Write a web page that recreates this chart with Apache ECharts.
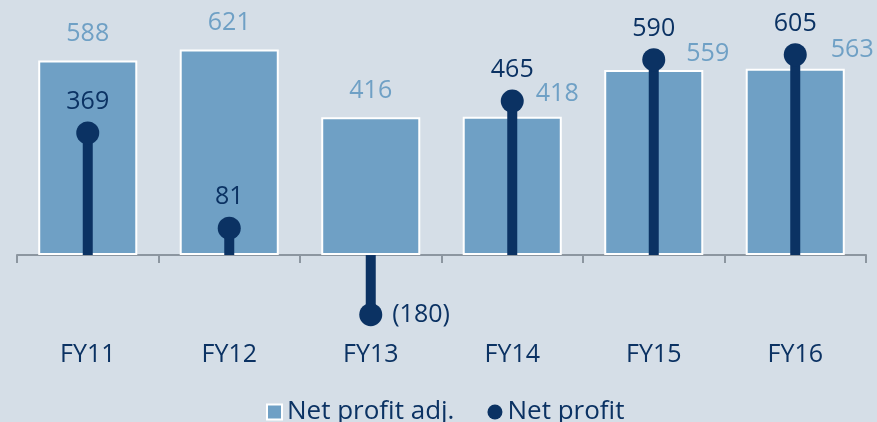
<!DOCTYPE html>
<html>
<head>
<meta charset="utf-8">
<script src="https://cdn.jsdelivr.net/npm/echarts@6/dist/echarts.min.js"></script>
<style>
  html, body { margin: 0; padding: 0; background: #d5dee7; }
  #chart { width: 877px; height: 422px; }
</style>
</head>
<body>
<div id="chart"></div>
<script>
const years = ['FY11', 'FY12', 'FY13', 'FY14', 'FY15', 'FY16'];
const netProfitAdj = [588, 621, 416, 418, 559, 563];
const netProfit = [369, 81, -180, 465, 590, 605];

const lightBlue = '#6fa0c5';
const navy = '#0b3263';
const font = 'Open Sans';

// adj. labels: the last three sit beside the bar, next to the lollipop
const adjOffsets = [[0, 0], [0, 0], [0, 0], [45, 4], [54, 10], [57, 8]];

const chart = echarts.init(document.getElementById('chart'));
chart.setOption({
  backgroundColor: '#d5dee7',
  textStyle: { fontFamily: font },
  animation: false,
  grid: { left: 17, right: 11, top: 23.3, bottom: 84.2 },
  legend: {
    top: 394,
    left: 261,
    itemWidth: 15,
    itemHeight: 15,
    itemGap: 33,
    textStyle: { color: navy, fontSize: 26, fontFamily: font },
    data: [
      { name: 'Net profit adj.', icon: 'rect', itemStyle: { color: lightBlue, borderColor: '#fff', borderWidth: 2 } },
      { name: 'Net profit', icon: 'circle', itemStyle: { color: navy } }
    ]
  },
  xAxis: [
    {
      type: 'category',
      data: years,
      axisLine: { onZero: true, lineStyle: { color: '#8c96a0', width: 2 } },
      axisTick: { show: true, length: 8, lineStyle: { color: '#8c96a0', width: 2 } },
      axisLabel: { show: false }
    },
    {
      type: 'category',
      data: years,
      position: 'bottom',
      axisLine: { show: false, onZero: false },
      axisTick: { show: false },
      axisLabel: { color: navy, fontSize: 25, margin: 5, fontFamily: font }
    }
  ],
  yAxis: {
    type: 'value',
    min: -250,
    max: 700,
    show: false,
    splitLine: { show: false }
  },
  series: [
    {
      name: 'Net profit adj.',
      type: 'bar',
      xAxisIndex: 0,
      barWidth: '70%',
      itemStyle: { color: lightBlue, borderColor: '#fff', borderWidth: 2 },
      label: { show: true, position: 'top', distance: 14, color: lightBlue, fontSize: 25, fontFamily: font },
      data: netProfitAdj.map((v, i) => ({ value: v, label: { offset: adjOffsets[i] } })),
      z: 1
    },
    {
      name: 'stem',
      type: 'bar',
      xAxisIndex: 1,
      barWidth: 10,
      itemStyle: { color: navy },
      data: netProfit,
      z: 3
    },
    {
      name: 'Net profit',
      type: 'scatter',
      xAxisIndex: 0,
      symbol: 'circle',
      symbolSize: 23,
      itemStyle: { color: navy, opacity: 1 },
      label: {
        show: true, position: 'top', distance: 7, color: navy, fontSize: 25, fontFamily: font,
        formatter: p => p.value < 0 ? '(' + (-p.value) + ')' : String(p.value)
      },
      data: netProfit.map(v => v < 0 ? { value: v, label: { position: 'right', distance: 10 } } : v),
      z: 4
    }
  ]
});
</script>
</body>
</html>
